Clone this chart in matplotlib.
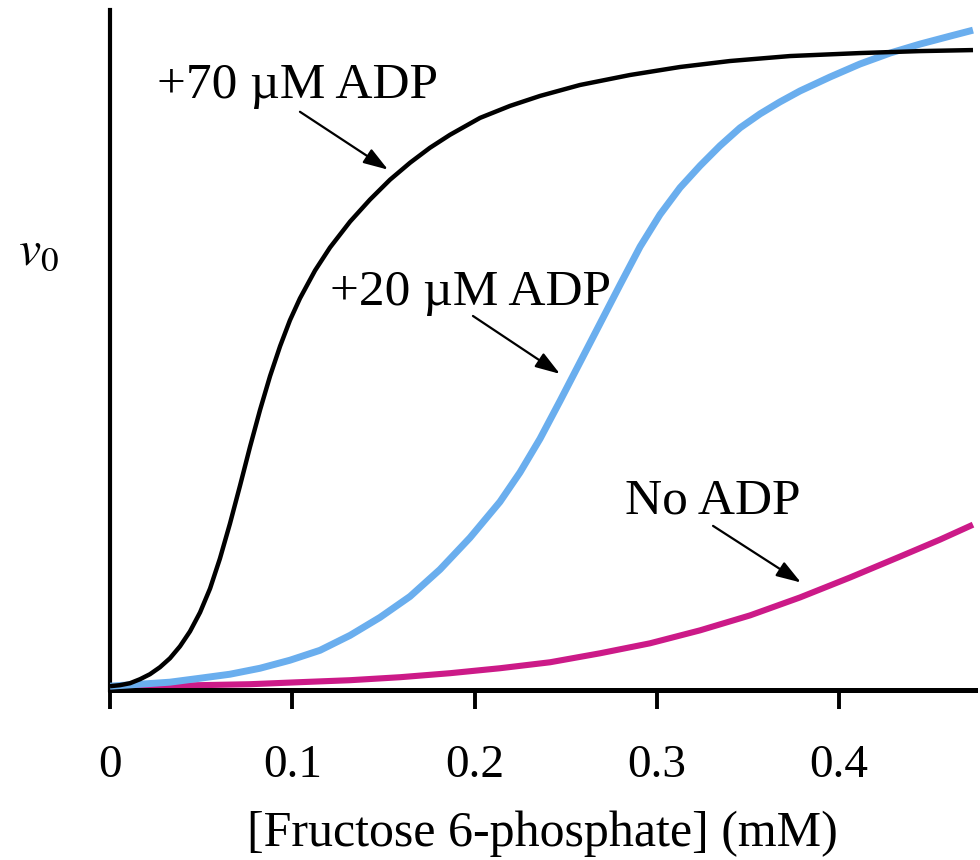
import matplotlib
matplotlib.use("Agg")
import matplotlib.pyplot as plt

# [Fructose 6-phosphate] (mM) and relative initial velocity for each ADP level
x_70 = [0.0000, 0.0055, 0.0110, 0.0165, 0.0219, 0.0274, 0.0329, 0.0384, 0.0439,
        0.0494, 0.0549, 0.0603, 0.0658, 0.0713, 0.0768, 0.0823, 0.0878, 0.0933,
        0.0987, 0.1042, 0.1125, 0.1207, 0.1317, 0.1426, 0.1536, 0.1646, 0.1755,
        0.1865, 0.2030, 0.2194, 0.2359, 0.2578, 0.2852, 0.3127, 0.3401, 0.3730,
        0.4114, 0.4443, 0.4734]
v_70 = [0.00, 0.16, 0.47, 1.10, 1.88, 2.98, 4.39, 6.27, 8.62,
        11.60, 15.36, 20.06, 25.55, 31.50, 37.62, 43.42, 48.75, 53.45,
        57.52, 60.97, 65.36, 68.97, 73.04, 76.49, 79.62, 82.29, 84.64,
        86.68, 89.34, 91.22, 92.79, 94.51, 96.08, 97.34, 98.28, 99.06,
        99.53, 99.84, 100.00]

x_20 = [0.0000, 0.0165, 0.0329, 0.0494, 0.0658, 0.0823, 0.0987, 0.1152, 0.1317,
        0.1481, 0.1646, 0.1810, 0.1975, 0.2139, 0.2249, 0.2359, 0.2468, 0.2578,
        0.2688, 0.2798, 0.2908, 0.3017, 0.3127, 0.3237, 0.3346, 0.3456, 0.3566,
        0.3675, 0.3785, 0.3950, 0.4114, 0.4279, 0.4443, 0.4608, 0.4734]
v_20 = [0.00, 0.31, 0.63, 1.25, 1.88, 2.82, 4.08, 5.64, 7.99,
        10.81, 14.11, 18.34, 23.35, 28.98, 33.60, 38.90, 44.80, 50.90,
        57.00, 63.10, 69.10, 74.14, 78.37, 81.82, 84.95, 87.77, 89.97,
        91.85, 93.57, 95.77, 97.81, 99.53, 100.94, 102.19, 103.13]

x_0 = [0.0000, 0.0219, 0.0494, 0.0768, 0.1042, 0.1317, 0.1591, 0.1865, 0.2139,
       0.2414, 0.2688, 0.2962, 0.3237, 0.3511, 0.3785, 0.4059, 0.4334, 0.4553,
       0.4734]
v_0 = [0.00, 0.00, 0.16, 0.31, 0.63, 0.94, 1.41, 2.04, 2.82,
       3.76, 5.17, 6.74, 8.78, 11.13, 13.95, 17.08, 20.38, 23.04,
       25.39]

x_ticks = [0, 0.1, 0.2, 0.3, 0.4]
x_tick_labels = ["0", "0.1", "0.2", "0.3", "0.4"]

labels = ["+70 \u00b5M ADP", "+20 \u00b5M ADP", "No ADP"]
colors = ["#000000", "#6aaeee", "#cc1a88"]

plt.rcParams["font.family"] = ["Liberation Serif", "DejaVu Serif"]
plt.rcParams["mathtext.fontset"] = "stix"

fig = plt.figure(figsize=(9.8, 8.6), dpi=100)
ax = fig.add_axes([110 / 980, 170 / 860, 865 / 980, 680 / 860])

line_kw = dict(solid_capstyle="butt", solid_joinstyle="round")
ax.plot(x_0, v_0, color=colors[2], lw=4.4, zorder=2, **line_kw)
ax.plot(x_20, v_20, color=colors[1], lw=5.0, zorder=3, **line_kw)
ax.plot(x_70, v_70, color=colors[0], lw=3.2, zorder=4, **line_kw)

ax.set_xlim(0, 0.4745)
ax.set_ylim(-0.6, 106.3)

for side in ("top", "right"):
    ax.spines[side].set_visible(False)
ax.spines["left"].set_linewidth(3.0)
ax.spines["bottom"].set_linewidth(3.6)

ax.set_xticks(x_ticks)
ax.set_xticklabels(x_tick_labels)
ax.set_yticks([])
ax.tick_params(axis="x", direction="out", length=13.5, width=2.8,
               labelsize=34, pad=26)

ax.set_xlabel("[Fructose 6-phosphate] (mM)", fontsize=36, labelpad=17)
fig.text(38 / 980, 1 - 252 / 860, r"$v_0$", fontsize=36,
         ha="center", va="center")

arrow = dict(arrowstyle="-|>,head_length=0.75,head_width=0.25",
             color="black", lw=1.6, mutation_scale=20, shrinkA=0, shrinkB=0)

ax.annotate("", xy=(0.1525, 81.2), xytext=(0.1042, 90.3), arrowprops=arrow)
ax.text(0.0258, 92.5, labels[0], fontsize=37, ha="left", va="baseline")

ax.annotate("", xy=(0.2468, 49.1), xytext=(0.1991, 58.2), arrowprops=arrow)
ax.text(0.1207, 60.0, labels[1], fontsize=37, ha="left", va="baseline")

ax.annotate("", xy=(0.3790, 16.3), xytext=(0.3308, 25.2), arrowprops=arrow)
ax.text(0.2825, 27.1, labels[2], fontsize=37, ha="left", va="baseline")

fig.savefig("out.png", dpi=100)
